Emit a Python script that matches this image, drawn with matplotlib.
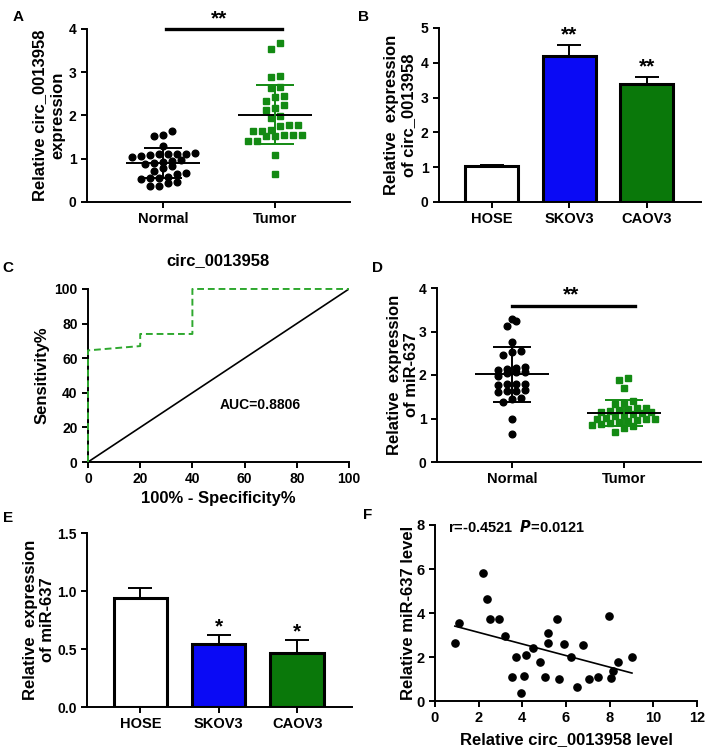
import matplotlib
matplotlib.use("Agg")
import matplotlib.pyplot as plt
import numpy as np

plt.rcParams["font.family"] = ["Liberation Sans", "DejaVu Sans"]
plt.rcParams["font.weight"] = "bold"
plt.rcParams["axes.labelweight"] = "bold"
plt.rcParams["axes.titleweight"] = "bold"

# ---- data ----
groups = ["Normal", "Tumor"]
cells = ["HOSE", "SKOV3", "CAOV3"]

# A: circ_0013958 in tissues
circ_normal = [1.65, 1.55, 1.53, 1.30, 1.14, 1.12, 1.12, 1.10, 1.10, 1.08,
               1.06, 1.05, 0.98, 0.95, 0.92, 0.90, 0.88, 0.84, 0.78, 0.72,
               0.68, 0.64, 0.57, 0.56, 0.55, 0.54, 0.46, 0.43, 0.37, 0.36]
circ_tumor = [3.68, 3.53, 2.91, 2.89, 2.66, 2.64, 2.43, 2.44, 2.34, 2.24,
              2.17, 2.13, 1.98, 1.94, 1.79, 1.78, 1.76, 1.66, 1.65, 1.64,
              1.55, 1.54, 1.53, 1.54, 1.52, 1.41, 1.40, 1.09, 0.65]

# B: circ_0013958 in cell lines
circ_cells = [1.02, 4.20, 3.39]
circ_cells_err = [0.03, 0.32, 0.21]

# C: ROC curve
roc_fpr = [0, 0, 20, 20, 40, 40, 100]
roc_tpr = [0, 64.5, 67, 74, 74, 100, 100]

# D: miR-637 in tissues
mir_normal = [3.28, 3.24, 3.12, 2.76, 2.55, 2.54, 2.47, 2.18, 2.15, 2.13,
              2.12, 2.08, 2.06, 2.05, 1.97, 1.80, 1.80, 1.79, 1.78, 1.65,
              1.64, 1.63, 1.62, 1.47, 1.45, 1.37, 0.98, 0.65]
mir_tumor = [1.93, 1.88, 1.70, 1.41, 1.36, 1.33, 1.24, 1.23, 1.22, 1.20,
             1.18, 1.16, 1.14, 1.12, 1.10, 1.07, 1.05, 1.02, 1.00, 0.99,
             0.98, 0.96, 0.94, 0.92, 0.90, 0.88, 0.85, 0.82, 0.78, 0.68]

# E: miR-637 in cell lines
mir_cells = [0.94, 0.54, 0.47]
mir_cells_err = [0.09, 0.08, 0.11]

# F: correlation
corr_circ = [0.91, 1.10, 2.21, 2.39, 2.50, 2.93, 3.19, 3.51, 3.70, 3.92,
             4.07, 4.15, 4.48, 4.80, 5.03, 5.17, 5.17, 5.59, 5.70, 5.91,
             6.25, 6.52, 6.78, 7.07, 7.47, 7.96, 8.08, 8.16, 8.38, 9.02]
corr_mir = [2.65, 3.53, 5.83, 4.62, 3.73, 3.73, 2.95, 1.11, 1.98, 0.35,
            1.14, 2.09, 2.42, 1.76, 1.11, 3.08, 2.62, 3.73, 1.00, 2.59,
            1.98, 0.65, 2.55, 1.00, 1.11, 3.86, 1.03, 1.36, 1.76, 1.98]

GREEN = "#138a13"
BAR_GREEN = "#0a780a"
BLUE = "#0a0af5"
LW = 1.4
NUM = 10
CAT = 10.5
LAB = 12


def style(ax, num_size=NUM):
    for s in ("top", "right"):
        ax.spines[s].set_visible(False)
    for s in ("left", "bottom"):
        ax.spines[s].set_linewidth(LW)
    ax.tick_params(width=LW, length=4, labelsize=num_size)


def row_offsets(values, y_scale, bin_px=6.5, step_px=9.0, x_scale=112):
    # GraphPad-like layout: points with close values share a row
    vals = np.asarray(values, dtype=float)
    order = np.argsort(vals)
    offs = np.zeros(len(vals))
    rows, cur, start = [], [], None
    for i in order:
        if cur and (vals[i] - start) * y_scale > bin_px:
            rows.append(cur)
            cur = []
        if not cur:
            start = vals[i]
        cur.append(i)
    rows.append(cur)
    for r in rows:
        k = len(r)
        offs[r] = (np.arange(k) - (k - 1) / 2) * step_px / x_scale
    return offs


def dot_plot(ax, data, markers, colors, sd_colors, y_scale):
    for k, vals in enumerate(data):
        offs = row_offsets(vals, y_scale)
        ax.plot(k + offs, vals, markers[k], color=colors[k], ms=4.8,
                ls="none", zorder=3, clip_on=False)
        m = np.mean(vals)
        sd = np.std(vals, ddof=1)
        ax.hlines(m, k - 0.33, k + 0.33, color="black", lw=LW, zorder=4)
        ax.vlines(k, m - sd, m + sd, color=sd_colors[k], lw=LW, zorder=4)
        ax.hlines([m - sd, m + sd], k - 0.17, k + 0.17, color=sd_colors[k], lw=LW, zorder=4)
    ax.set_xticks(range(len(groups)))
    ax.set_xticklabels(groups, fontsize=CAT)


def bar_plot(ax, vals, errs, colors):
    x = np.arange(len(vals))
    ax.errorbar(x, vals, yerr=[np.zeros(len(errs)), errs], fmt="none",
                ecolor="black", elinewidth=LW, capsize=8.5, capthick=LW, zorder=2)
    ax.bar(x, vals, width=0.68, color=colors, edgecolor="black", linewidth=2.2, zorder=3)
    ax.set_xticks(x)
    ax.set_xticklabels(cells, fontsize=CAT)
    ax.set_xlim(-0.68, 2.7)


fig = plt.figure(figsize=(7.08, 7.5), dpi=100)

# ---- A ----
axA = fig.add_axes([0.1229, 0.7307, 0.3715, 0.2307])
style(axA)
dot_plot(axA, [circ_normal, circ_tumor], ["o", "s"], ["black", GREEN],
         ["black", GREEN], 43.2)
axA.set_xlim(-0.68, 1.67)
axA.set_ylim(0, 4)
axA.set_yticks([0, 1, 2, 3, 4])
axA.set_ylabel("Relative circ_0013958\nexpression", fontsize=LAB)
axA.yaxis.set_label_coords(-0.084, 0.5)
axA.plot([0.03, 1.06], [4.0, 4.0], color="black", lw=2.4, clip_on=False)
axA.text(0.5, 4.02, "**", ha="center", va="bottom", fontsize=15, clip_on=False)

# ---- B ----
axB = fig.add_axes([0.6200, 0.7307, 0.3700, 0.2320])
style(axB)
bar_plot(axB, circ_cells, circ_cells_err, ["white", BLUE, BAR_GREEN])
axB.set_ylim(0, 5)
axB.set_yticks([0, 1, 2, 3, 4, 5])
axB.set_ylabel("Relative  expression\nof circ_0013958", fontsize=LAB)
axB.yaxis.set_label_coords(-0.088, 0.5)
for i in (1, 2):
    axB.text(i, circ_cells[i] + circ_cells_err[i] + 0.02, "**", ha="center",
             va="bottom", fontsize=15)

# ---- C ----
axC = fig.add_axes([0.1243, 0.3840, 0.3686, 0.2307])
style(axC, 10)
axC.plot([0, 100], [0, 100], color="black", lw=1.2, zorder=2)
axC.plot(roc_fpr, roc_tpr, color="#2ea82e", lw=1.4, ls=(0, (3.5, 2)), zorder=3,
         clip_on=False)
axC.set_xlim(0, 100)
axC.set_ylim(0, 100)
axC.set_xticks(range(0, 101, 20))
axC.set_yticks(range(0, 101, 20))
axC.set_title("circ_0013958", fontsize=12, pad=17)
axC.set_xlabel("100% - Specificity%", fontsize=LAB)
axC.xaxis.set_label_coords(0.5, -0.17)
axC.set_ylabel("Sensitivity%", fontsize=LAB)
axC.yaxis.set_label_coords(-0.146, 0.5)
axC.text(66, 33, "AUC=0.8806", ha="center", va="center", fontsize=10)

# ---- D ----
axD = fig.add_axes([0.6172, 0.3840, 0.3729, 0.2320])
style(axD)
dot_plot(axD, [mir_normal, mir_tumor], ["o", "s"], ["black", GREEN],
         ["black", GREEN], 43.5)
axD.set_xlim(-0.67, 1.69)
axD.set_ylim(0, 4)
axD.set_yticks([0, 1, 2, 3, 4])
axD.set_ylabel("Relative  expression\nof miR-637", fontsize=LAB)
axD.yaxis.set_label_coords(-0.068, 0.5)
axD.plot([0.0, 1.1], [3.59, 3.59], color="black", lw=2.4)
axD.text(0.53, 3.62, "**", ha="center", va="bottom", fontsize=15)

# ---- E ----
axE = fig.add_axes([0.1229, 0.0573, 0.3743, 0.2320])
style(axE)
bar_plot(axE, mir_cells, mir_cells_err, ["white", BLUE, BAR_GREEN])
axE.set_ylim(0, 1.5)
axE.set_yticks([0, 0.5, 1.0, 1.5])
axE.set_yticklabels(["0.0", "0.5", "1.0", "1.5"])
axE.set_ylabel("Relative  expression\nof miR-637", fontsize=LAB)
axE.yaxis.set_label_coords(-0.121, 0.5)
for i in (1, 2):
    axE.text(i, mir_cells[i] + mir_cells_err[i] - 0.01, "*", ha="center",
             va="bottom", fontsize=15)

# ---- F ----
axF = fig.add_axes([0.6144, 0.0653, 0.3701, 0.2347])
style(axF, 10.5)
axF.plot(corr_circ, corr_mir, "o", color="black", ms=5.2, ls="none", zorder=3)
slope, icpt = np.polyfit(corr_circ, corr_mir, 1)
xx = np.array([min(corr_circ), max(corr_circ)])
axF.plot(xx, slope * xx + icpt, color="black", lw=1.2)
axF.set_xlim(0, 12)
axF.set_ylim(0, 8)
axF.set_xticks(range(0, 13, 2))
axF.set_yticks(range(0, 9, 2))
axF.set_xlabel("Relative circ_0013958 level", fontsize=LAB)
axF.xaxis.set_label_coords(0.5, -0.176)
axF.set_ylabel("Relative miR-637 level", fontsize=LAB)
axF.yaxis.set_label_coords(-0.073, 0.5)
axF.text(0.6, 7.9, "r=-0.4521  $\\bf{\\it{P}}$=0.0121", ha="left", va="center",
         fontsize=10.5)

# panel letters
for lab, (x, y) in {"A": (0.025, 0.977), "B": (0.514, 0.977),
                    "C": (0.011, 0.642), "D": (0.533, 0.642),
                    "E": (0.011, 0.309), "F": (0.519, 0.313)}.items():
    fig.text(x, y, lab, fontsize=11, fontweight="bold", ha="center", va="center")

fig.savefig("out.png", dpi=100)
